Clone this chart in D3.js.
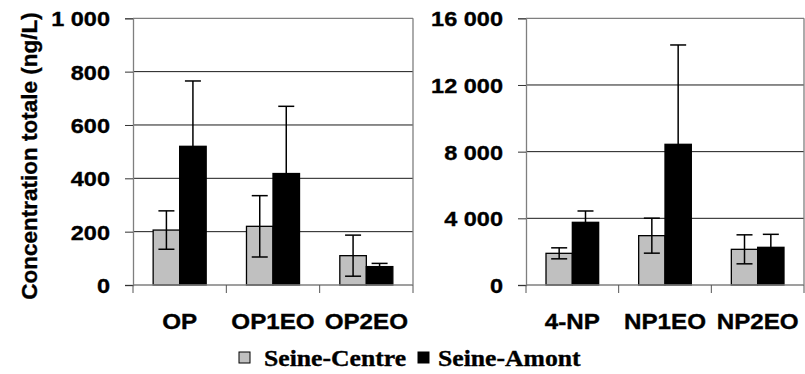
<!DOCTYPE html>
<html>
<head>
<meta charset="utf-8">
<script src="https://cdn.jsdelivr.net/npm/d3@7"></script>
<style>
  html, body { margin: 0; padding: 0; background: #fff; }
  svg { display: block; }
  .heavy { stroke: #000; stroke-width: 0.35px; }
</style>
</head>
<body>
<svg id="chart" width="805" height="374"></svg>
<script>
// ---- data ----
const seriesNames = ["Seine-Centre", "Seine-Amont"];
const seriesColors = ["#c0c0c0", "#000000"];

const catsOP = ["OP", "OP1EO", "OP2EO"];
const centreOP = [206, 220, 110];
const centreOPErr = [72, 115, 77];
const amontOP = [520, 418, 69];
const amontOPErr = [245, 252, 12];
const ticksOP = [0, 200, 400, 600, 800, 1000];

const catsNP = ["4-NP", "NP1EO", "NP2EO"];
const centreNP = [1900, 2960, 2140];
const centreNPErr = [330, 1050, 870];
const amontNP = [3760, 8440, 2260];
const amontNPErr = [680, 5960, 780];
const ticksNP = [0, 4000, 8000, 12000, 16000];

const yTitle = "Concentration totale (ng/L)";

// ---- setup ----
const svg = d3.select("#chart");
const fmt = d3.formatLocale({ decimal: ",", thousands: " ", grouping: [3], currency: ["", ""] }).format(",d");
const SANS = "'Liberation Sans', Arial, sans-serif";
const SERIF = "'Liberation Serif', 'Times New Roman', serif";
const SX = 1.12; // horizontal stretch of the reference text
const AXIS = "#7f7f7f";

const plotTop = 18.3, plotBottom = 285;

function panel(x0px, x1px, cats, centre, centreErr, amont, amontErr, ticks) {
  const g = svg.append("g");
  const x = d3.scaleBand().domain(cats).range([x0px, x1px]).paddingInner(0).paddingOuter(0);
  const xs = d3.scaleBand().domain(seriesNames).range([0, x.bandwidth()]).paddingInner(0).paddingOuter(0.76);
  const y = d3.scaleLinear().domain([0, d3.max(ticks)]).range([plotBottom, plotTop]);

  // gridlines
  g.append("g").selectAll("line").data(ticks.filter(t => t > 0 && t < d3.max(ticks))).join("line")
    .attr("x1", x0px).attr("x2", x1px)
    .attr("y1", d => y(d)).attr("y2", d => y(d))
    .attr("stroke", "#1a1a1a").attr("stroke-width", 1);

  // plot border top/right
  g.append("line").attr("x1", x0px).attr("x2", x1px).attr("y1", y(d3.max(ticks))).attr("y2", y(d3.max(ticks)))
    .attr("stroke", AXIS).attr("stroke-width", 1.3);
  g.append("line").attr("x1", x1px).attr("x2", x1px).attr("y1", plotTop).attr("y2", plotBottom)
    .attr("stroke", AXIS).attr("stroke-width", 1.3);

  // y axis
  const yAxis = d3.axisLeft(y).tickValues(ticks).tickSize(8).tickPadding(15).tickFormat(fmt);
  const ya = g.append("g").attr("transform", `translate(${x0px},0)`).call(yAxis);
  ya.select(".domain").attr("stroke", AXIS).attr("stroke-width", 1.3);
  ya.selectAll(".tick line").attr("stroke", "#333").attr("stroke-width", 1);
  ya.selectAll(".tick text")
    .attr("class", "heavy")
    .attr("font-family", SANS).attr("font-weight", "bold").attr("font-size", 21).attr("fill", "#000")
    .attr("dy", "0.36em")
    .attr("transform", function() { const xx = +d3.select(this).attr("x"); return `translate(${xx*(1-SX)},0) scale(${SX},1)`; });

  // series data
  const series = [
    { name: seriesNames[0], vals: centre, errs: centreErr, color: seriesColors[0] },
    { name: seriesNames[1], vals: amont, errs: amontErr, color: seriesColors[1] }
  ];

  // bars
  series.forEach(s => {
    g.append("g").selectAll("rect").data(cats).join("rect")
      .attr("x", (c) => x(c) + xs(s.name))
      .attr("width", xs.bandwidth())
      .attr("y", (c, i) => y(s.vals[i]))
      .attr("height", (c, i) => plotBottom - y(s.vals[i]))
      .attr("fill", s.color).attr("stroke", "#000").attr("stroke-width", 1.3);
  });

  // error bars
  const cap = 8;
  series.forEach(s => {
    const eg = g.append("g").attr("stroke", "#000").attr("stroke-width", 1.5);
    cats.forEach((c, i) => {
      const cx = x(c) + xs(s.name) + xs.bandwidth() / 2;
      const hi = y(s.vals[i] + s.errs[i]), lo = y(s.vals[i] - s.errs[i]);
      eg.append("line").attr("x1", cx).attr("x2", cx).attr("y1", hi).attr("y2", lo);
      eg.append("line").attr("x1", cx - cap).attr("x2", cx + cap).attr("y1", hi).attr("y2", hi);
      eg.append("line").attr("x1", cx - cap).attr("x2", cx + cap).attr("y1", lo).attr("y2", lo);
    });
  });

  // x axis line and boundary ticks
  g.append("line").attr("x1", x0px).attr("x2", x1px).attr("y1", plotBottom).attr("y2", plotBottom)
    .attr("stroke", AXIS).attr("stroke-width", 1.3);
  const bounds = cats.map(c => x(c)).concat([x.range()[1]]);
  g.append("g").selectAll("line").data(bounds).join("line")
    .attr("x1", d => d).attr("x2", d => d).attr("y1", plotBottom).attr("y2", plotBottom + 8)
    .attr("stroke", "#555").attr("stroke-width", 1);

  // category labels
  g.append("g").selectAll("text").data(cats).join("text")
    .attr("class", "heavy")
    .attr("transform", c => `translate(${x(c) + x.bandwidth() / 2},328.5) scale(1.1,1)`)
    .attr("text-anchor", "middle")
    .attr("font-family", SANS).attr("font-weight", "bold").attr("font-size", 22).attr("fill", "#000")
    .text(c => c);
}

panel(133, 413, catsOP, centreOP, centreOPErr, amontOP, amontOPErr, ticksOP);
panel(526, 804, catsNP, centreNP, centreNPErr, amontNP, amontNPErr, ticksNP);

// y title
svg.append("text")
  .attr("class", "heavy")
  .attr("transform", "translate(37,156) rotate(-90)")
  .attr("text-anchor", "middle")
  .attr("font-family", SANS).attr("font-weight", "bold").attr("font-size", 22.5).attr("fill", "#000")
  .text(yTitle);

// legend
const legendItems = [
  { name: seriesNames[0], color: seriesColors[0], sx: 239, tx: 264 },
  { name: seriesNames[1], color: seriesColors[1], sx: 418, tx: 438 }
];
const lg = svg.append("g");
legendItems.forEach(it => {
  lg.append("rect").attr("x", it.sx).attr("y", 352).attr("width", 11).attr("height", 11)
    .attr("fill", it.color).attr("stroke", "#000").attr("stroke-width", 1);
  lg.append("text").attr("transform", `translate(${it.tx},366) scale(1.07,1)`)
    .attr("class", "heavy")
    .attr("font-family", SERIF).attr("font-weight", "bold").attr("font-size", 24).attr("fill", "#000")
    .text(it.name);
});
</script>
</body>
</html>
